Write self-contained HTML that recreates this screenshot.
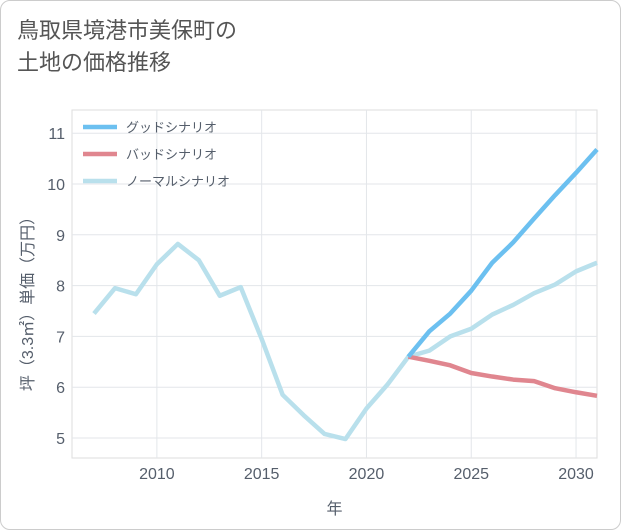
<!DOCTYPE html>
<html><head><meta charset="utf-8"><style>
body{margin:0;background:#fff;}
#wrap{position:relative;width:619px;height:528px;border:1px solid #ccc;border-radius:10px;background:#fff;overflow:hidden;font-family:"Liberation Sans","Noto Sans CJK JP",sans-serif;}
#title{position:absolute;left:16px;top:14px;font-size:22px;line-height:32px;color:#555;}
svg text{font-family:"Liberation Sans","Noto Sans CJK JP",sans-serif;}
</style></head><body>
<div id="wrap">
<div id="title">鳥取県境港市美保町の<br>土地の価格推移</div>
<svg id="chart" width="621" height="530" style="position:absolute;left:-1px;top:-1px"></svg>
</div>
<script>
const years=[2007,2008,2009,2010,2011,2012,2013,2014,2015,2016,2017,2018,2019,2020,2021,2022,2023,2024,2025,2026,2027,2028,2029,2030,2031];
const normalVals=[7.45,7.95,7.83,8.42,8.82,8.5,7.8,7.97,6.95,5.85,5.45,5.08,4.98,5.58,6.05,6.6,6.72,7.0,7.15,7.43,7.62,7.85,8.02,8.28,8.45];
const futureYears=[2022,2023,2024,2025,2026,2027,2028,2029,2030,2031];
const goodVals=[6.6,7.1,7.45,7.9,8.45,8.85,9.32,9.78,10.22,10.68];
const badVals=[6.6,6.52,6.43,6.28,6.21,6.15,6.12,5.98,5.9,5.83];
const xTicks=[2010,2015,2020,2025,2030];
const yTicks=[5,6,7,8,9,10,11];
const legendLabels=["グッドシナリオ","バッドシナリオ","ノーマルシナリオ"];
const NS="http://www.w3.org/2000/svg";
const svg=document.getElementById('chart');
const L=72,R=597,T=110,B=458;
const x=v=>L+(v-2005.95)/(2031-2005.95)*(R-L);
const y=v=>438-(v-5)*50.8;
function el(t,a){const e=document.createElementNS(NS,t);for(const k in a)e.setAttribute(k,a[k]);svg.appendChild(e);return e;}
const bg=el('rect',{x:L,y:T,width:R-L,height:B-T,fill:'#fff',stroke:'#ddd'});


xTicks.forEach(t=>{
 const g=el('line',{x1:x(t),x2:x(t),y1:T,y2:B,stroke:'#e3e6ea'});
 
 
 const tx=el('text',{x:x(t),y:479,'text-anchor':'middle','font-size':16,fill:'#555e6b'});tx.textContent=t;
 
 
});
yTicks.forEach(t=>{
 const g=el('line',{x1:L,x2:R,y1:y(t),y2:y(t),stroke:'#e3e6ea'});
 
 
 const tx=el('text',{x:65,y:y(t)+6,'text-anchor':'end','font-size':16,fill:'#555e6b'});tx.textContent=t;
 
 
});
const xt=el('text',{x:(L+R)/2,y:514,'text-anchor':'middle','font-size':16,fill:'#555e6b'});xt.textContent='年';


const yt=el('text',{x:0,y:0,'text-anchor':'middle','font-size':16,fill:'#555e6b',transform:'translate(33,300) rotate(-90)'});yt.textContent='坪（3.3㎡）単価（万円）';


function line(xs,vs,color,name){
 const p=el('polyline',{points:xs.map((t,i)=>x(t)+','+y(vs[i])).join(' '),fill:'none',stroke:color,'stroke-width':4.5,'stroke-linejoin':'round'});
 
 
}
line(years,normalVals,'#b9e0ec','normal-scenario-line');
line(futureYears,badVals,'#e0868f','bad-scenario-line');
line(futureYears,goodVals,'#6cc0f0','good-scenario-line');
const lc=['#6cc0f0','#e0868f','#b9e0ec'];
legendLabels.forEach((s,i)=>{
 const yy=127+i*27;
 const l=el('line',{x1:83,x2:117,y1:yy,y2:yy,stroke:lc[i],'stroke-width':4.5});
 
 
 const t=el('text',{x:126,y:yy+5,'font-size':13,fill:'#555e6b'});t.textContent=s;
 
 
});
</script>
</body></html>
